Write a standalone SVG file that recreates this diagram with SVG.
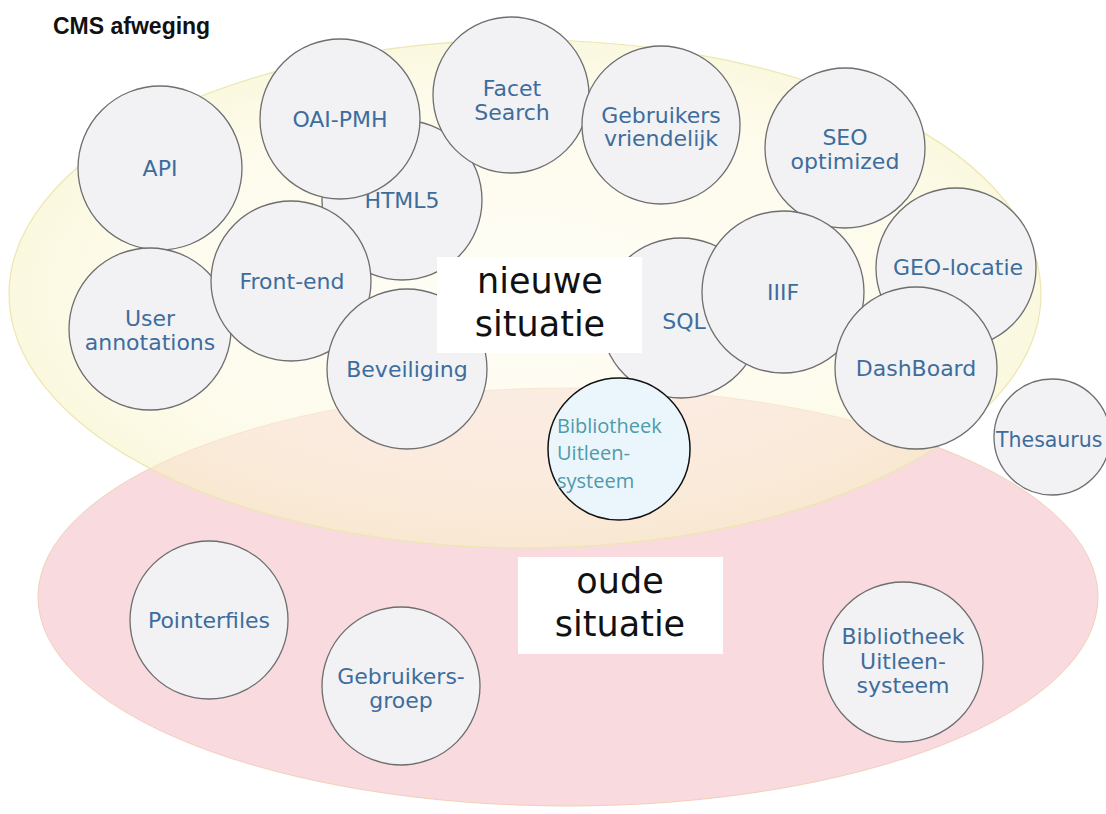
<svg xmlns="http://www.w3.org/2000/svg" width="1106" height="814" viewBox="0 0 1106 814">
<defs>
<radialGradient id="yg" cx="0.5" cy="0.5" r="0.5">
<stop offset="0" stop-color="#fffdf0"/>
<stop offset="0.75" stop-color="#fcf8dc"/>
<stop offset="1" stop-color="#f8f2c6"/>
</radialGradient>
<style>
.c{fill:#f2f2f4;stroke:#6e6e6e;stroke-width:1.3}
.t{font-family:"DejaVu Sans",Verdana,sans-serif;font-size:22px;fill:#3d6d9c;text-anchor:middle}
.big{font-family:"DejaVu Sans",Verdana,sans-serif;font-size:35px;fill:#111;text-anchor:middle}
.box{fill:#ffffff}
.b{font-family:"Open Sans","DejaVu Sans",sans-serif;font-size:20px;fill:#4f9aab}
</style>
</defs>
<rect width="1106" height="814" fill="#ffffff"/>
<g id="oude-situatie-area">
<ellipse cx="568" cy="597" rx="530" ry="209" fill="#f9dbdf" stroke="#f0d0b8" stroke-width="1"/>
</g>
<g id="nieuwe-situatie-area">
<ellipse cx="525" cy="294" rx="516" ry="254" fill="url(#yg)" fill-opacity="0.55" stroke="#ece6b0" stroke-width="1.2"/>
</g>
<text x="53" y="34" font-family="Liberation Sans,Arial,sans-serif" font-size="23" font-weight="bold" fill="#111">CMS afweging</text>
<g id="connectors"></g>
<g id="node-api"><circle class="c" cx="160" cy="168" r="82"/><text class="t" x="160" y="176">API</text></g>
<g id="node-html5"><circle class="c" cx="402" cy="200" r="80"/><text class="t" x="402" y="208">HTML5</text></g>
<g id="node-oai"><circle class="c" cx="340" cy="119" r="80"/><text class="t" x="340" y="127">OAI-PMH</text></g>
<g id="node-facet"><circle class="c" cx="511" cy="95" r="78"/><text class="t" x="512" y="96">Facet</text><text class="t" x="512" y="120">Search</text></g>
<g id="node-gebruikersvriendelijk"><circle class="c" cx="661" cy="125" r="79"/><text class="t" x="661" y="123">Gebruikers</text><text class="t" x="661" y="146">vriendelijk</text></g>
<g id="node-seo"><circle class="c" cx="845" cy="148" r="80"/><text class="t" x="845" y="145">SEO</text><text class="t" x="845" y="169">optimized</text></g>
<g id="node-user"><circle class="c" cx="150" cy="329" r="81"/><text class="t" x="150" y="326">User</text><text class="t" x="150" y="350">annotations</text></g>
<g id="node-frontend"><circle class="c" cx="291" cy="281" r="80"/><text class="t" x="292" y="289">Front-end</text></g>
<g id="node-beveiliging"><circle class="c" cx="407" cy="369" r="80"/><text class="t" x="407" y="377">Beveiliging</text></g>
<g id="node-sql"><circle class="c" cx="681" cy="318" r="80"/><text class="t" x="684" y="329">SQL</text></g>
<g id="node-geo"><circle class="c" cx="956" cy="268" r="80"/><text class="t" x="958" y="275">GEO-locatie</text></g>
<g id="node-iiif"><circle class="c" cx="783" cy="292" r="81"/><text class="t" x="783" y="300">IIIF</text></g>
<g id="node-dashboard"><circle class="c" cx="916" cy="368" r="81"/><text class="t" x="916" y="376">DashBoard</text></g>
<g id="node-thesaurus"><circle class="c" cx="1052" cy="437" r="58"/><text class="t" x="996" y="447" style="text-anchor:start;font-size:20.5px">Thesaurus</text></g>
<g id="label-nieuwe"><rect class="box" x="437" y="257" width="205" height="96"/><text class="big" x="540" y="293">nieuwe</text><text class="big" x="540" y="336">situatie</text></g>
<g id="node-bibliotheek-nieuw"><circle cx="619" cy="449" r="71" fill="#eaf6fb" stroke="#111" stroke-width="1.5"/>
<text class="b" x="557" y="433">Bibliotheek</text>
<text class="b" x="557" y="460">Uitleen-</text>
<text class="b" x="557" y="488">systeem</text></g>
<g id="label-oude"><rect class="box" x="518" y="557" width="205" height="97"/><text class="big" x="620" y="593">oude</text><text class="big" x="620" y="636">situatie</text></g>
<g id="node-pointerfiles"><circle class="c" cx="209" cy="620" r="79"/><text class="t" x="209" y="628">Pointerfiles</text></g>
<g id="node-gebruikersgroep"><circle class="c" cx="401" cy="686" r="79"/><text class="t" x="401" y="684">Gebruikers-</text><text class="t" x="401" y="708">groep</text></g>
<g id="node-bibliotheek-oud"><circle class="c" cx="903" cy="662" r="80"/><text class="t" x="903" y="644">Bibliotheek</text><text class="t" x="903" y="669">Uitleen-</text><text class="t" x="903" y="693">systeem</text></g>
</svg>
